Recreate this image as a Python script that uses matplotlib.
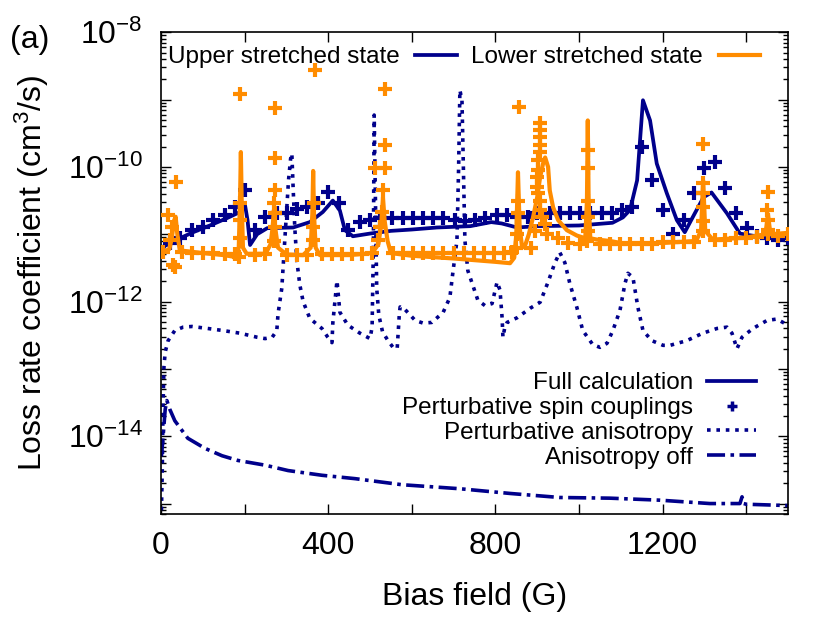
import numpy as np
import matplotlib
matplotlib.use("Agg")
import matplotlib.pyplot as plt
from matplotlib.lines import Line2D
from matplotlib.ticker import LogLocator, FuncFormatter, NullFormatter

plt.rcParams['font.family'] = ['Liberation Sans', 'DejaVu Sans']
plt.rcParams['mathtext.fontset'] = 'custom'
plt.rcParams['mathtext.rm'] = 'Liberation Sans'
plt.rcParams['mathtext.it'] = 'Liberation Sans:italic'
plt.rcParams['mathtext.bf'] = 'Liberation Sans:bold'

NAVY = '#00008b'
ORANGE = '#ff8c00'

# ---- data: bias field (G) and log10 of loss rate coefficient (cm^3/s) ----
# upper stretched state, full calculation
full_up_x = [0, 10, 21, 45, 77, 117, 158, 189, 201, 207,
             213, 230, 254, 316, 356, 387, 411, 428, 440, 459,
             500, 550, 600, 660, 740, 790, 815, 852, 900, 1000,
             1080, 1105, 1122, 1139, 1153, 1170, 1186, 1210, 1234, 1253,
             1277, 1298, 1317, 1354, 1385, 1450, 1500]
full_up_log = [-11.24, -11.17, -11.14, -11.06, -10.97, -10.87, -10.76, -10.67, -10.57, -10.79,
               -11.16, -11.00, -10.91, -10.90, -10.82, -10.67, -10.50, -10.65, -10.94, -11.03,
               -10.99, -10.95, -10.93, -10.90, -10.88, -10.82, -10.84, -10.90, -10.88, -10.87,
               -10.83, -10.75, -10.64, -10.20, -9.01, -9.31, -9.95, -10.39, -10.79, -10.97,
               -10.69, -10.45, -10.38, -10.69, -10.99, -11.06, -11.05]

# upper stretched state, perturbative spin couplings
spin_up_x = [21, 45, 74, 100, 124, 153, 177, 201, 225, 249,
             277, 301, 325, 349, 376, 399, 426, 447, 476, 500,
             524, 553, 579, 603, 627, 651, 675, 703, 727, 751,
             775, 804, 828, 852, 878, 899, 930, 954, 978, 1002,
             1026, 1055, 1079, 1103, 1127, 1151, 1175, 1201, 1225, 1251,
             1275, 1299, 1325, 1349, 1375, 1402, 1426, 1450, 1476, 1500]
spin_up_log = [-11.135, -11.05, -10.94, -10.90, -10.79, -10.72, -10.60, -10.35, -10.94, -10.75,
               -10.69, -10.68, -10.62, -10.60, -10.53, -10.38, -10.54, -10.94, -10.82, -10.79,
               -10.76, -10.76, -10.76, -10.76, -10.76, -10.76, -10.76, -10.79, -10.81, -10.79,
               -10.76, -10.72, -10.72, -10.75, -10.75, -10.69, -10.69, -10.69, -10.69, -10.69,
               -10.69, -10.69, -10.69, -10.645, -10.60, -9.71, -10.20, -10.645, -10.99, -10.79,
               -10.39, -10.02, -9.93, -10.32, -10.69, -10.91, -11.02, -11.06, -11.09, -11.05]

# lower stretched state, full calculation
full_lo_x = [0, 10, 20, 26, 31, 35, 39, 45, 100, 150,
             180, 186, 189, 191, 193, 196, 205, 250, 262, 267,
             270, 273, 280, 300, 340, 358, 362, 364, 366, 370,
             380, 450, 505, 520, 527, 531, 535, 542, 550, 600,
             700, 800, 835, 845, 850, 854, 858, 864, 872, 880,
             890, 900, 907, 914, 919, 926, 930, 938, 950, 971,
             995, 1015, 1019, 1021, 1023, 1027, 1043, 1074, 1100, 1200,
             1280, 1292, 1297, 1302, 1320, 1400, 1446, 1452, 1458, 1500]
full_lo_log = [-11.27, -11.25, -11.22, -11.05, -10.80, -10.74, -11.00, -11.24, -11.28, -11.31,
               -11.34, -11.20, -10.50, -9.78, -10.50, -11.20, -11.29, -11.29, -11.15, -10.90,
               -10.64, -10.90, -11.20, -11.30, -11.31, -11.20, -10.70, -10.06, -10.70, -11.20,
               -11.31, -11.31, -11.28, -11.15, -10.85, -10.45, -10.80, -11.10, -11.28, -11.32,
               -11.36, -11.41, -11.43, -11.35, -11.00, -10.08, -10.90, -11.20, -11.15, -11.00,
               -10.75, -10.45, -10.15, -9.95, -9.86, -10.00, -10.35, -10.60, -10.79, -10.94,
               -11.02, -11.06, -10.50, -9.31, -10.50, -11.06, -11.08, -11.10, -11.13, -11.13,
               -11.10, -10.95, -10.20, -10.95, -11.08, -11.05, -11.00, -10.70, -11.00, -10.98]

# lower stretched state, perturbative spin couplings
spin_lo_x = [5, 17, 21, 26, 29, 33, 36,
             50, 74, 100, 124, 153, 177,
             186, 189, 189, 189, 189,
             225, 249,
             271, 273, 273, 271, 273, 273, 273,
             301, 325, 349,
             363, 364, 366, 368,
             385, 409, 433, 457, 481, 505,
             519, 524, 529, 531, 512, 536, 536, 536,
             555, 579, 603, 627, 651, 675, 700, 724, 748, 772, 797, 821, 840,
             850, 852, 854, 854, 857,
             885, 895, 912, 907, 907, 902, 900, 900, 902, 902, 907, 907, 907, 907, 907, 919, 923,
             950, 974, 1002,
             1019, 1021, 1021, 1021, 1021, 1021,
             1050, 1074, 1098, 1122, 1151, 1175, 1201, 1225, 1251, 1275,
             1296, 1296, 1296, 1296, 1296, 1296,
             1325, 1349, 1375, 1400, 1426,
             1452, 1452, 1452, 1450, 1452,
             1476, 1500]
spin_lo_log = [-11.27, -10.72, -11.09, -10.90, -11.46, -11.49, -10.23,
               -11.27, -11.28, -11.28, -11.28, -11.30, -11.30,
               -11.34, -11.05, -10.79, -10.54, -8.91,
               -11.31, -11.30,
               -11.10, -10.89, -10.69, -10.53, -10.35, -9.87, -9.13,
               -11.31, -11.31, -11.31,
               -11.09, -10.90, -10.54, -8.56,
               -11.30, -11.30, -11.30, -11.29, -11.29, -11.28,
               -11.09, -10.90, -10.67, -10.35, -10.02, -10.02, -9.68, -8.85,
               -11.28, -11.28, -11.28, -11.28, -11.28, -11.28, -11.28, -11.28, -11.28, -11.28, -11.28, -11.28, -11.27,
               -11.20, -10.99, -10.69, -10.50, -9.11,
               -11.20, -10.95, -10.75, -10.64, -10.50, -10.39, -10.30, -10.15, -10.05, -9.90, -9.78, -9.68, -9.56, -9.45, -9.35, -10.85, -11.00,
               -11.06, -11.135, -11.15,
               -11.10, -10.95, -10.75, -10.50, -10.02, -9.75,
               -11.14, -11.14, -11.14, -11.14, -11.14, -11.14, -11.12, -11.12, -11.12, -11.11,
               -10.95, -10.80, -10.60, -10.39, -10.24, -9.66,
               -11.09, -11.08, -11.06, -11.05, -11.04,
               -11.00, -10.94, -10.79, -10.645, -10.38,
               -11.03, -11.00]

# upper stretched state, perturbative anisotropy
aniso_pert_x = [1, 3, 5, 7, 10, 17, 33, 53, 74, 112,
                148, 189, 230, 249, 266, 277, 280, 289, 294, 299,
                305, 310, 313, 316, 320, 325, 332, 340, 356, 385,
                399, 409, 411, 416, 421, 428, 447, 476, 500, 505,
                508, 510, 513, 516, 521, 530, 543, 555, 565, 570,
                572, 576, 584, 608, 627, 648, 675, 691, 698, 708,
                712, 715, 720, 727, 734, 746, 758, 775, 792, 804,
                811, 816, 818, 822, 828, 852, 883, 907, 926, 942,
                954, 966, 978, 995, 1009, 1033, 1050, 1067, 1081, 1098,
                1110, 1117, 1129, 1141, 1153, 1174, 1201, 1218, 1258, 1296,
                1330, 1354, 1366, 1378, 1390, 1416, 1450, 1473, 1500]
aniso_pert_log = [-15.10, -14.50, -13.50, -12.97, -12.75, -12.58, -12.43, -12.38, -12.37, -12.40,
                  -12.43, -12.47, -12.53, -12.55, -12.53, -12.43, -12.18, -11.80, -11.30, -10.80,
                  -10.20, -9.88, -9.80, -10.30, -10.90, -11.40, -11.75, -12.00, -12.25, -12.40,
                  -12.53, -12.61, -12.32, -12.00, -11.69, -12.16, -12.35, -12.47, -12.55, -12.38,
                  -11.20, -9.23, -10.50, -11.80, -12.20, -12.45, -12.58, -12.68, -12.70, -12.20,
                  -12.08, -12.10, -12.12, -12.28, -12.32, -12.31, -12.16, -11.94, -11.58, -11.09,
                  -10.00, -8.86, -9.01, -11.09, -11.54, -11.76, -11.98, -12.06, -12.03, -11.71,
                  -11.83, -12.24, -12.53, -12.40, -12.31, -12.24, -12.10, -12.01, -11.71, -11.43,
                  -11.27, -11.42, -11.73, -12.09, -12.43, -12.64, -12.68, -12.62, -12.43, -12.13,
                  -11.73, -11.58, -11.64, -12.09, -12.43, -12.58, -12.65, -12.65, -12.58, -12.47,
                  -12.40, -12.38, -12.47, -12.70, -12.53, -12.40, -12.28, -12.26, -12.35]

# upper stretched state, anisotropy off
aniso_off_x = [1, 5, 10, 14, 21, 33, 64, 105, 146, 184,
               249, 304, 385, 464, 576, 715, 835, 954, 1074, 1194,
               1313, 1385, 1390, 1394, 1400, 1500]
aniso_off_log = [-14.30, -14.00, -13.60, -13.47, -13.60, -13.77, -14.03, -14.18, -14.29, -14.36,
                 -14.43, -14.51, -14.58, -14.63, -14.72, -14.78, -14.85, -14.91, -14.92, -14.95,
                 -15.00, -15.00, -14.90, -15.00, -15.01, -15.03]

XLIM = (0, 1500)
YLIM = (7e-16, 1e-8)


def k(logs):
    return 10.0 ** np.asarray(logs)


fig = plt.figure(figsize=(8.3, 6.2), dpi=100)
ax = fig.add_axes([0.194, 0.171, 0.7554, 0.777])

DOT = (0, (1, 1.6))
DASHDOT = (0, (5, 1.5, 1, 1.5))
ax.plot(aniso_pert_x, k(aniso_pert_log), color=NAVY, lw=2.6, ls=DOT, zorder=2)
ax.plot(aniso_off_x, k(aniso_off_log), color=NAVY, lw=2.6, ls=DASHDOT, zorder=2)
ax.plot(full_up_x, k(full_up_log), color=NAVY, lw=2.7, zorder=3)
ax.plot(spin_up_x, k(spin_up_log), color=NAVY, ls='none', marker='+', ms=10, mew=3, zorder=3)
ax.plot(full_lo_x, k(full_lo_log), color=ORANGE, lw=3.0, zorder=4)
ax.plot(spin_lo_x, k(spin_lo_log), color=ORANGE, ls='none', marker='+', ms=10, mew=3, zorder=4)

ax.set_yscale('log')
ax.set_xlim(*XLIM)
ax.set_ylim(*YLIM)

ax.set_xticks(range(0, 1401, 200))
ax.set_xticklabels([str(v) if v % 400 == 0 else '' for v in range(0, 1401, 200)])
ax.yaxis.set_major_locator(LogLocator(base=10, numticks=30))
ax.yaxis.set_minor_locator(LogLocator(base=10, subs=np.arange(2, 10), numticks=30))
ax.yaxis.set_minor_formatter(NullFormatter())


def ylab(v, pos):
    e = int(round(np.log10(v)))
    return r'$10^{%d}$' % e if e % 2 == 0 else ''


ax.yaxis.set_major_formatter(FuncFormatter(ylab))
ax.tick_params(which='both', direction='in', top=True, right=True, width=1.0, colors='black')
ax.tick_params(which='major', length=7)
ax.tick_params(which='minor', length=3.5)
ax.tick_params(axis='x', labelsize=23, pad=12)
ax.tick_params(axis='y', labelsize=23, pad=13)
for s in ax.spines.values():
    s.set_linewidth(1.2)

ax.set_xlabel('Bias field (G)', fontsize=23)
ax.set_ylabel(r'Loss rate coefficient (cm$^3$/s)', fontsize=23)
ax.xaxis.set_label_coords(0.5, -0.142)
ax.yaxis.set_label_coords(-0.176, 0.5)

# legends, gnuplot style (text before sample)
h_up = Line2D([], [], color=NAVY, lw=2.7)
h_lo = Line2D([], [], color=ORANGE, lw=3.0)
leg1 = ax.legend([h_up, h_lo], ['Upper stretched state', 'Lower stretched state'],
                 ncol=2, markerfirst=False, loc='center left', bbox_to_anchor=(0.011, 0.948),
                 frameon=False, fontsize=17.5, borderpad=0, borderaxespad=0,
                 handlelength=1.7, handletextpad=0.65, columnspacing=0.6)
ax.add_artist(leg1)

h_full = Line2D([], [], color=NAVY, lw=2.7)
h_spin = Line2D([], [], color=NAVY, ls='none', marker='+', ms=7, mew=2.5)
h_pert = Line2D([], [], color=NAVY, lw=2.6, ls=DOT)
h_off = Line2D([], [], color=NAVY, lw=2.6, ls=DASHDOT)
ax.legend([h_full, h_spin, h_pert, h_off],
          ['Full calculation', 'Perturbative spin couplings', 'Perturbative anisotropy', 'Anisotropy off'],
          markerfirst=False, loc='center right', bbox_to_anchor=(0.949, 0.194),
          frameon=False, fontsize=17.5, borderpad=0, borderaxespad=0,
          handlelength=2.0, handletextpad=0.6, labelspacing=0.12)

fig.text(0.012, 0.935, '(a)', fontsize=23, va='center', ha='left')

fig.savefig('out.png', dpi=100)
